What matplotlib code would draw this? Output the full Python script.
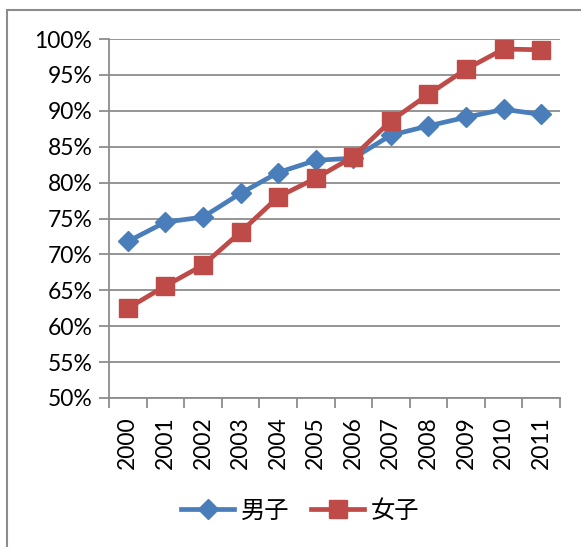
import matplotlib.pyplot as plt
from matplotlib.patches import Rectangle
from matplotlib.ticker import FuncFormatter, MultipleLocator

years = ['2000', '2001', '2002', '2003', '2004', '2005',
         '2006', '2007', '2008', '2009', '2010', '2011']
boys = [71.8, 74.5, 75.2, 78.5, 81.4, 83.1, 83.4, 86.6, 87.9, 89.1, 90.2, 89.5]
girls = [62.5, 65.6, 68.5, 73.1, 78.0, 80.6, 83.6, 88.6, 92.3, 95.8, 98.6, 98.5]
series_names = ['男子', '女子']

plt.rcParams['font.family'] = ['Lato', 'DejaVu Sans']

fig = plt.figure(figsize=(5.81, 5.47), dpi=100)
W, H = 581, 547

# outer chart frame (runs off the right and bottom edges)
fig.patches.append(Rectangle((7 / W, -0.1), 1.2, 1 - 10 / H + 0.1,
                             transform=fig.transFigure, fill=False,
                             edgecolor='#8c8c8c', linewidth=1.5))

ax = fig.add_axes([109 / W, 1 - 398 / H, (560 - 109) / W, (398 - 39) / H])

x = list(range(len(years)))
ax.plot(x, boys, color='#4a7ebb', linewidth=3.4, marker='D',
        markersize=10, label=series_names[0], zorder=3)
ax.plot(x, girls, color='#be4b48', linewidth=3.4, marker='s',
        markersize=13.5, label=series_names[1], zorder=4)

ax.set_xlim(-0.5, len(years) - 0.5)
ax.set_ylim(50, 100)
ax.yaxis.set_major_locator(MultipleLocator(5))
ax.yaxis.set_major_formatter(FuncFormatter(lambda v, p: f'{v:.0f}%'))
ax.grid(axis='y', color='#8c8c8c', linewidth=1.3)
ax.set_axisbelow(True)

ax.set_xticks(x)
ax.set_xticklabels(years, rotation=90)
ax.set_xticks([i - 0.5 for i in range(len(years) + 1)], minor=True)
ax.tick_params(axis='x', which='major', length=0, pad=13, labelsize=16.5)
ax.tick_params(axis='x', which='minor', length=7, width=1.3, color='#8c8c8c')
ax.tick_params(axis='y', length=7, width=1.3, color='#8c8c8c', labelsize=16.5, pad=5)

for side in ['top', 'right']:
    ax.spines[side].set_visible(False)
for side in ['left', 'bottom']:
    ax.spines[side].set_color('#8c8c8c')
    ax.spines[side].set_linewidth(1.3)

fig.legend(loc='center', bbox_to_anchor=(300 / W, 1 - 511 / H), ncol=2,
           frameon=False, handlelength=2.2, columnspacing=0.9,
           handletextpad=0.25,
           prop={'family': ['Noto Sans CJK JP', 'DejaVu Sans'], 'size': 17.5})

fig.savefig('out.png', dpi=100)
